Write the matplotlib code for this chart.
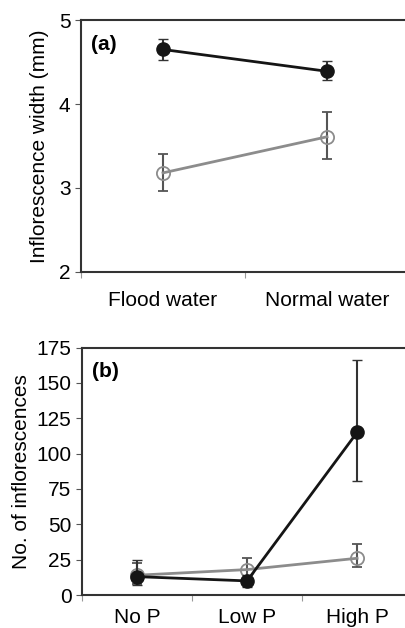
import matplotlib.pyplot as plt
import numpy as np

plt.rcParams['font.family'] = ['Liberation Sans', 'DejaVu Sans']

# panel (a)
water = ['Flood water', 'Normal water']
a_black = [4.65, 4.39]
a_black_lo = [4.53, 4.29]
a_black_hi = [4.78, 4.51]
a_grey = [3.18, 3.61]
a_grey_lo = [2.96, 3.35]
a_grey_hi = [3.40, 3.90]

# panel (b)
phos = ['No P', 'Low P', 'High P']
b_black = [13, 10, 115]
b_black_lo = [7, 6, 81]
b_black_hi = [25, 14, 166]
b_grey = [14, 18, 26]
b_grey_lo = [8, 12, 20]
b_grey_hi = [23, 26, 36]

BLACK = '#151515'
GREY = '#8c8c8c'
SPINE = '#333333'
FS = 15


def draw(ax, cats, blk, blo, bhi, gry, glo, ghi, xpad):
    x = np.arange(len(cats)) + 0.5
    blk, gry = np.array(blk), np.array(gry)
    ax.errorbar(x, gry, yerr=[gry - np.array(glo), np.array(ghi) - gry],
                color=GREY, lw=2, marker='o', ms=9.5, mfc='none', mew=1.3,
                ecolor='#555555', elinewidth=1.5, capsize=3.5, zorder=3)
    ax.errorbar(x, blk, yerr=[blk - np.array(blo), np.array(bhi) - blk],
                color=BLACK, lw=2, marker='o', ms=9.5, mfc=BLACK,
                ecolor='#333333', elinewidth=1.5, capsize=3.5, zorder=4)
    ax.set_xlim(0, len(cats))
    ax.set_xticks(np.arange(len(cats) + 1))
    ax.set_xticklabels([])
    ax.set_xticks(x, minor=True)
    ax.set_xticklabels(cats, minor=True, fontsize=FS)
    ax.tick_params(axis='x', which='minor', length=0, pad=xpad)
    ax.tick_params(axis='x', which='major', length=4, color='#999999')
    ax.tick_params(axis='y', length=4, labelsize=FS, color='#555555')
    ax.spines['right'].set_visible(False)
    for s in ['left', 'top', 'bottom']:
        ax.spines[s].set_color(SPINE)
        ax.spines[s].set_linewidth(1.5)


fig = plt.figure(figsize=(4.06, 6.28), dpi=100)

ax1 = fig.add_axes([0.1995, 0.567, 0.808, 0.401])
draw(ax1, water, a_black, a_black_lo, a_black_hi, a_grey, a_grey_lo, a_grey_hi, 14)
ax1.set_ylim(2, 5)
ax1.set_yticks([2, 3, 4, 5])
ax1.set_ylabel('Inflorescence width (mm)', fontsize=FS, labelpad=7)
ax1.text(0.03, 0.94, '(a)', transform=ax1.transAxes, fontsize=FS,
         fontweight='bold', va='top')

ax2 = fig.add_axes([0.202, 0.0525, 0.813, 0.394])
draw(ax2, phos, b_black, b_black_lo, b_black_hi, b_grey, b_grey_lo, b_grey_hi, 9)
ax2.set_ylim(0, 175)
ax2.set_yticks(np.arange(0, 176, 25))
ax2.set_ylabel('No. of inflorescences', fontsize=FS, labelpad=4)
ax2.text(0.03, 0.94, '(b)', transform=ax2.transAxes, fontsize=FS,
         fontweight='bold', va='top')

fig.savefig('out.png', dpi=100)
